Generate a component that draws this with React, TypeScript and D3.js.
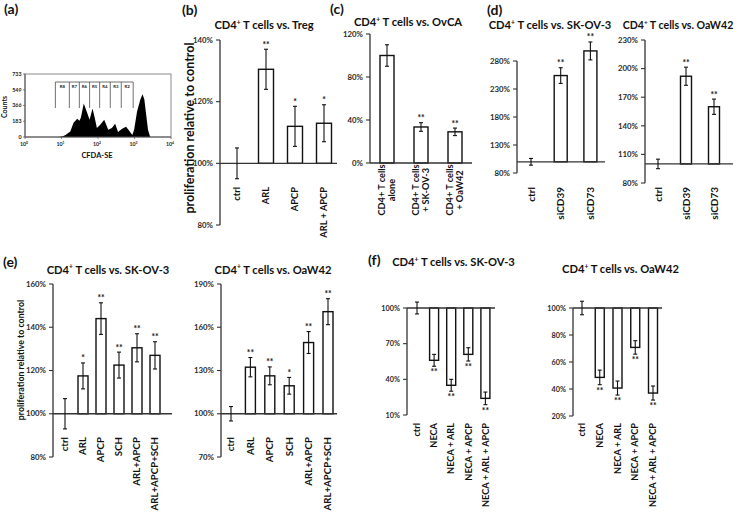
import React from "react";
import * as d3 from "d3";

const FONT = "Lato, 'Open Sans', Arial, sans-serif";

// ---------- (a) histogram ----------
const histIntensity = [8.2, 10.5, 12.9, 17.4, 21.4, 26.9, 30.9, 33.9, 40.7, 50.1, 58.9, 70.8, 81.3, 93.3, 115, 148, 191, 240, 295, 355, 457, 589, 724, 871, 977, 1175, 1445, 1660, 1862, 2089, 2344, 2692];
const histCounts = [0, 6, 24, 63, 165, 213, 189, 225, 390, 284, 201, 331, 225, 106, 142, 201, 83, 106, 154, 59, 95, 118, 71, 24, 83, 296, 437, 497, 437, 260, 83, 0];
const histYTicks = [0, 183, 366, 549, 733];
const histXTicks = [1, 10, 100, 1000, 10000];
const gateBounds = [6.8, 16.4, 30.8, 58.9, 111, 217, 434, 920];
const gateNames = ["R8", "R7", "R6", "R5", "R4", "R3", "R2"];

// ---------- (b) ----------
const bCats = ["ctrl", "ARL", "APCP", "ARL + APCP"];
const bVals = [100, 130.5, 112, 113];
const bErrs = [5, 6.5, 6.5, 6];
const bStars = ["", "**", "*", "*"];
const bTicks = [80, 100, 120, 140];

// ---------- (c) ----------
const cCats = ["CD4+ T cells\nalone", "CD4+ T cells\n+ SK-OV-3", "CD4+ T cells\n+ OaW42"];
const cVals = [100, 33.5, 29];
const cErrs = [10, 4, 3.5];
const cStars = ["", "**", "**"];
const cTicks = [0, 40, 80, 120];

// ---------- (d) ----------
const dCats = ["ctrl", "siCD39", "siCD73"];
const dSkVals = [100, 254, 298];
const dSkErrs = [6, 14, 16];
const dSkStars = ["", "**", "**"];
const dSkTicks = [80, 130, 180, 230, 280];
const dOaVals = [100, 192, 160];
const dOaErrs = [5, 9.5, 8];
const dOaStars = ["", "**", "**"];
const dOaTicks = [80, 110, 140, 170, 200, 230];

// ---------- (e) ----------
const eCats = ["ctrl", "ARL", "APCP", "SCH", "ARL+APCP", "ARL+APCP+SCH"];
const eSkVals = [100, 117.5, 144, 122.5, 130.5, 127];
const eSkErrs = [7, 6, 7.3, 6, 6.5, 6.3];
const eSkStars = ["", "*", "**", "**", "**", "**"];
const eSkTicks = [80, 100, 120, 140, 160];
const eOaVals = [100, 132.3, 126.3, 119.4, 149.4, 170.8];
const eOaErrs = [5, 6.7, 6.2, 5.8, 7.6, 9];
const eOaStars = ["", "**", "**", "*", "**", "**"];
const eOaTicks = [70, 100, 130, 160, 190];

// ---------- (f) ----------
const fCats = ["ctrl", "NECA", "NECA + ARL", "NECA + APCP", "NECA + ARL + APCP"];
const fSkVals = [100, 56, 35, 61, 24];
const fSkErrs = [5, 5, 5, 5.6, 5.3];
const fSkStars = ["", "**", "**", "**", "**"];
const fSkTicks = [10, 40, 70, 100];
const fOaVals = [100, 48.6, 40.7, 70.8, 37];
const fOaErrs = [5, 5.4, 5.2, 5, 5.2];
const fOaStars = ["", "**", "**", "**", "**"];
const fOaTicks = [20, 40, 60, 80, 100];

const INK = "#111";
const AXIS = "#333";

function Title({ x, y, text, size = 11.2 }: { x: number; y: number; text: string; size?: number }) {
  const rest = text.slice(4);
  return (
    <text x={x} y={y} textAnchor="middle" fontSize={size} fontWeight="bold" fontFamily={FONT} fill={INK}>
      CD4
      <tspan fontSize={size * 0.6} dy={-size * 0.38}>+</tspan>
      <tspan dy={size * 0.38}>{rest}</tspan>
    </text>
  );
}

function PanelLabel({ x, y, t }: { x: number; y: number; t: string }) {
  return (
    <text x={x} y={y} fontSize={14} fontWeight="bold" fontFamily={FONT} fill={INK}>
      {t}
    </text>
  );
}

type PanelProps = {
  cats: string[];
  vals: number[];
  errs: number[];
  stars: string[];
  ticks: number[];
  domain: [number, number];
  base: number;
  axisX: number;
  yBottom: number;
  yTop: number;
  firstX: number;
  step: number;
  barW: number;
  baseEnd: number;
  labelY: number;
  labelSize: number;
  tickSize: number;
  multiLine?: boolean;
};

function BarPanel(p: PanelProps) {
  const y = d3.scaleLinear().domain(p.domain).range([p.yBottom, p.yTop]);
  const x = d3
    .scalePoint<string>()
    .domain(p.cats)
    .range([p.firstX, p.firstX + p.step * (p.cats.length - 1)]);
  const yb = y(p.base);
  return (
    <g fontFamily={FONT}>
      {p.cats.map((c, i) => {
        const v = p.vals[i];
        const yv = y(v);
        const h = Math.abs(yv - yb);
        if (h < 0.5) return null;
        return (
          <rect
            key={"b" + i}
            x={(x(c) as number) - p.barW / 2}
            y={Math.min(yv, yb)}
            width={p.barW}
            height={h}
            fill="#fff"
            stroke={INK}
            strokeWidth={1.4}
          />
        );
      })}
      <line x1={p.axisX} x2={p.axisX} y1={y(p.domain[0])} y2={y(p.domain[1])} stroke={AXIS} strokeWidth={1.3} />
      {p.ticks.map((t) => (
        <g key={"t" + t}>
          <line x1={p.axisX - 4} x2={p.axisX} y1={y(t)} y2={y(t)} stroke={AXIS} strokeWidth={1.1} />
          <text
            x={p.axisX - 7}
            y={y(t)}
            dy="0.35em"
            textAnchor="end"
            fontSize={p.tickSize}
            fontWeight="bold"
            fill="#2a2a2a"
          >
            {t + "%"}
          </text>
        </g>
      ))}
      <line x1={p.axisX} x2={p.baseEnd} y1={yb} y2={yb} stroke={AXIS} strokeWidth={1.3} />
      {p.cats.map((c, i) => {
        const cx = x(c) as number;
        const v = p.vals[i];
        const e = p.errs[i];
        const up = v >= p.base;
        const top = y(v + e);
        const bot = y(v - e);
        return (
          <g key={"e" + i}>
            <line x1={cx} x2={cx} y1={top} y2={bot} stroke={INK} strokeWidth={1.1} />
            <line x1={cx - 2} x2={cx + 2} y1={top} y2={top} stroke={INK} strokeWidth={1.1} />
            <line x1={cx - 2} x2={cx + 2} y1={bot} y2={bot} stroke={INK} strokeWidth={1.1} />
            {p.stars[i] && (
              <text
                x={cx}
                y={up ? top - 1.5 : bot + 9}
                textAnchor="middle"
                fontSize={8.5}
                fontWeight="bold"
                fill={INK}
              >
                {p.stars[i]}
              </text>
            )}
          </g>
        );
      })}
      {p.cats.map((c, i) => {
        const cx = x(c) as number;
        if (p.multiLine) {
          const lines = c.split("\n");
          const lh = p.labelSize * 1.1;
          return (
            <g key={"l" + i}>
              {lines.map((ln, k) => (
                <text
                  key={k}
                  transform={`translate(${cx + (k - (lines.length - 1) / 2) * lh},${p.labelY}) rotate(-90)`}
                  textAnchor="middle"
                  dy="0.35em"
                  fontSize={p.labelSize}
                  fontWeight="bold"
                  fill={INK}
                >
                  {ln}
                </text>
              ))}
            </g>
          );
        }
        return (
          <text
            key={"l" + i}
            transform={`translate(${cx},${p.labelY}) rotate(-90)`}
            textAnchor="end"
            dy="0.35em"
            fontSize={p.labelSize}
            fontWeight="bold"
            fill={INK}
          >
            {c}
          </text>
        );
      })}
    </g>
  );
}

function Histogram() {
  const x = d3.scaleLog().domain([1, 10000]).range([25, 171]);
  const y = d3.scaleLinear().domain([0, 733]).range([137, 74]);
  const pts = histIntensity.map((v, i) => [v, histCounts[i]] as [number, number]);
  const area = d3
    .area<[number, number]>()
    .x((d) => x(d[0]))
    .y0(y(0))
    .y1((d) => y(d[1]));
  const gateTop = 82;
  const gateBot = 108;
  return (
    <g fontFamily={FONT}>
      <rect x={25} y={74} width={146} height={63} fill="#fff" stroke="#8a8a8a" strokeWidth={1} />
      <path d={area(pts) || ""} fill="#000" />
      <line x1={25} x2={171} y1={137} y2={137} stroke="#555" strokeWidth={1} />
      <line x1={25} x2={25} y1={74} y2={137} stroke="#555" strokeWidth={1} />
      <line x1={x(gateBounds[0])} x2={x(gateBounds[gateBounds.length - 1])} y1={gateTop} y2={gateTop} stroke="#333" strokeWidth={0.7} />
      {gateBounds.map((g, i) => (
        <line key={"g" + i} x1={x(g)} x2={x(g)} y1={gateTop} y2={gateBot} stroke="#333" strokeWidth={0.7} />
      ))}
      {gateNames.map((n, i) => (
        <text
          key={n}
          x={(x(gateBounds[i]) + x(gateBounds[i + 1])) / 2}
          y={87.5}
          textAnchor="middle"
          fontSize={4.3}
          fontWeight="bold"
          fill="#222"
        >
          {n}
        </text>
      ))}
      {histYTicks.map((t) => (
        <g key={"hy" + t}>
          <line x1={23} x2={25} y1={y(t)} y2={y(t)} stroke="#555" strokeWidth={0.7} />
          <text x={21.5} y={y(t)} dy="0.35em" textAnchor="end" fontSize={5.3} fontWeight="bold" fill="#222">
            {t}
          </text>
        </g>
      ))}
      {histXTicks.map((t, i) => (
        <g key={"hx" + t}>
          <line x1={x(t)} x2={x(t)} y1={137} y2={139} stroke="#555" strokeWidth={0.7} />
          <text x={x(t) - 1} y={145.5} textAnchor="middle" fontSize={5.3} fontWeight="bold" fill="#222">
            10<tspan fontSize={3.4} dy={-2}>{String(i)}</tspan>
          </text>
        </g>
      ))}
      <text x={97} y={157.5} textAnchor="middle" fontSize={7.5} fontWeight="bold" fill={INK}>
        CFDA-SE
      </text>
      <text transform="translate(5,107) rotate(-90)" textAnchor="middle" dy="0.35em" fontSize={7} fontWeight="bold" fill={INK}>
        Counts
      </text>
    </g>
  );
}

export default function App() {
  return (
    <svg
      width={738}
      height={515}
      viewBox="0 0 738 515"
      style={{ position: "absolute", left: 0, top: 0, background: "#fff" }}
    >
      <rect x={0} y={0} width={738} height={515} fill="#fff" />

      <PanelLabel x={4} y={14} t="(a)" />
      <Histogram />

      {/* (b) */}
      <PanelLabel x={182} y={15} t="(b)" />
      <Title x={264} y={29} text="CD4+ T cells vs. Treg" />
      <text
        transform="translate(190,128) rotate(-90)"
        textAnchor="middle"
        dy="0.35em"
        fontSize={12.5}
        fontWeight="bold"
        fontFamily={FONT}
        fill={INK}
      >
        proliferation relative to control
      </text>
      <BarPanel
        cats={bCats} vals={bVals} errs={bErrs} stars={bStars} ticks={bTicks}
        domain={[80, 140]} base={100} axisX={220} yBottom={225} yTop={40}
        firstX={237} step={29} barW={15} baseEnd={337} labelY={187} labelSize={9.3} tickSize={7.8}
      />

      {/* (c) */}
      <PanelLabel x={330} y={14} t="(c)" />
      <Title x={408} y={26} text="CD4+ T cells vs. OvCA" />
      <BarPanel
        cats={cCats} vals={cVals} errs={cErrs} stars={cStars} ticks={cTicks}
        domain={[0, 120]} base={0} axisX={370} yBottom={163} yTop={34}
        firstX={387} step={34} barW={14} baseEnd={472} labelY={190} labelSize={9.2} tickSize={7.8}
        multiLine
      />

      {/* (d) */}
      <PanelLabel x={487} y={15} t="(d)" />
      <Title x={550} y={29} text="CD4+ T cells vs. SK-OV-3" />
      <BarPanel
        cats={dCats} vals={dSkVals} errs={dSkErrs} stars={dSkStars} ticks={dSkTicks}
        domain={[80, 280]} base={100} axisX={517} yBottom={173} yTop={61}
        firstX={531} step={29.7} barW={13} baseEnd={605} labelY={187} labelSize={10} tickSize={7.8}
      />
      <Title x={678} y={28.5} text="CD4+ T cells vs. OaW42" size={10.6} />
      <BarPanel
        cats={dCats} vals={dOaVals} errs={dOaErrs} stars={dOaStars} ticks={dOaTicks}
        domain={[80, 230]} base={100} axisX={645} yBottom={183} yTop={40}
        firstX={658} step={28} barW={11} baseEnd={733} labelY={187} labelSize={10} tickSize={7.8}
      />

      {/* (e) */}
      <PanelLabel x={3} y={267} t="(e)" />
      <Title x={108} y={273.5} text="CD4+ T cells vs. SK-OV-3" />
      <text
        transform="translate(21,360) rotate(-90)"
        textAnchor="middle"
        dy="0.35em"
        fontSize={8.8}
        fontWeight="bold"
        fontFamily={FONT}
        fill={INK}
      >
        proliferation relative to control
      </text>
      <BarPanel
        cats={eCats} vals={eSkVals} errs={eSkErrs} stars={eSkStars} ticks={eSkTicks}
        domain={[80, 160]} base={100} axisX={53} yBottom={457} yTop={284}
        firstX={65} step={18} barW={10} baseEnd={172} labelY={437} labelSize={9.7} tickSize={7.8}
      />
      <Title x={273} y={273.5} text="CD4+ T cells vs. OaW42" />
      <BarPanel
        cats={eCats} vals={eOaVals} errs={eOaErrs} stars={eOaStars} ticks={eOaTicks}
        domain={[70, 190]} base={100} axisX={221} yBottom={457} yTop={284}
        firstX={231} step={19.4} barW={10} baseEnd={337} labelY={437} labelSize={9.7} tickSize={7.8}
      />

      {/* (f) */}
      <PanelLabel x={368} y={265} t="(f)" />
      <Title x={453.5} y={266} text="CD4+ T cells vs. SK-OV-3" />
      <BarPanel
        cats={fCats} vals={fSkVals} errs={fSkErrs} stars={fSkStars} ticks={fSkTicks}
        domain={[10, 100]} base={100} axisX={407} yBottom={415} yTop={308}
        firstX={417} step={17.1} barW={9} baseEnd={495} labelY={423} labelSize={9.2} tickSize={7.3}
      />
      <Title x={620.5} y={273} text="CD4+ T cells vs. OaW42" />
      <BarPanel
        cats={fCats} vals={fOaVals} errs={fOaErrs} stars={fOaStars} ticks={fOaTicks}
        domain={[20, 100]} base={100} axisX={573} yBottom={416} yTop={308}
        firstX={582} step={17.75} barW={9} baseEnd={662} labelY={423} labelSize={9.2} tickSize={7.3}
      />
    </svg>
  );
}
